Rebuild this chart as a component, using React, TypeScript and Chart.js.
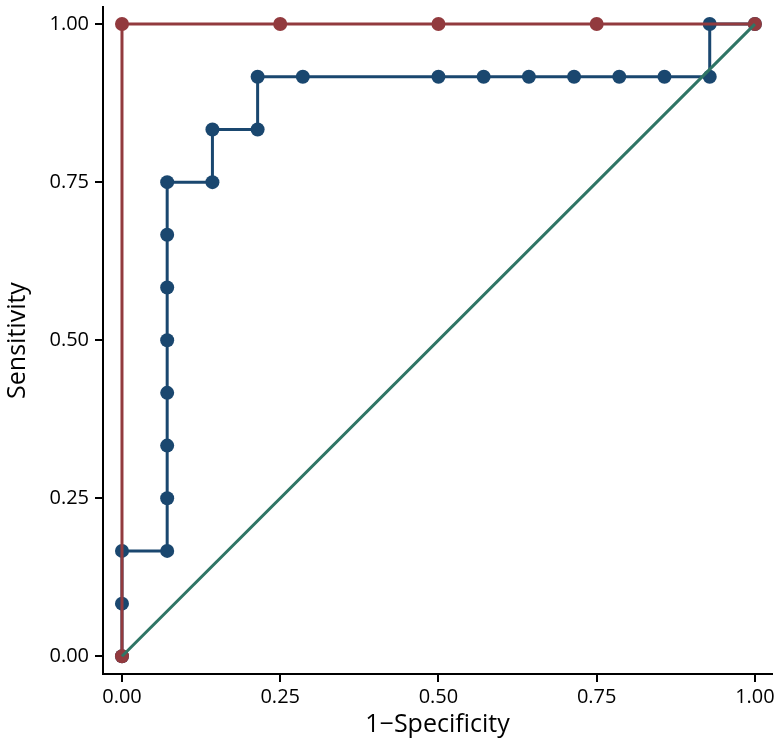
import React, { useEffect, useRef } from "react";
import { Chart, registerables } from "chart.js";

Chart.register(...registerables);

// Blue ROC curve (1-Specificity, Sensitivity)
const blueX = [0, 0, 0, 0.0714, 0.0714, 0.0714, 0.0714, 0.0714, 0.0714, 0.0714, 0.0714, 0.1429, 0.1429, 0.2143, 0.2143, 0.2857, 0.5, 0.5714, 0.6429, 0.7143, 0.7857, 0.8571, 0.9286, 0.9286, 1];
const blueY = [0, 0.0833, 0.1667, 0.1667, 0.25, 0.3333, 0.4167, 0.5, 0.5833, 0.6667, 0.75, 0.75, 0.8333, 0.8333, 0.9167, 0.9167, 0.9167, 0.9167, 0.9167, 0.9167, 0.9167, 0.9167, 0.9167, 1, 1];

// Red ROC curve
const redX = [0, 0, 0.25, 0.5, 0.75, 1];
const redY = [0, 1, 1, 1, 1, 1];

// Reference diagonal
const refX = [0, 1];
const refY = [0, 1];

const tickValues = [0, 0.25, 0.5, 0.75, 1];
const xTitle = "1\u2212Specificity";
const yTitle = "Sensitivity";

const BLUE = "#1a476f";
const RED = "#923a3e";
const GREEN = "#2f7565";
const FONT = "'Open Sans', sans-serif";

const toPts = (xs: number[], ys: number[]) => xs.map((x, i) => ({ x, y: ys[i] }));

export default function App() {
  const ref = useRef<HTMLCanvasElement>(null);
  useEffect(() => {
    if (!ref.current) return;
    const axisCommon = (isX: boolean) => ({
      type: "linear" as const,
      afterBuildTicks: (s: any) => {
        s.ticks = tickValues.map((v) => ({ value: v }));
      },
      afterFit: (s: any) => {
        if (isX) s.height = 73;
        else s.width = 103;
        s.paddingTop = 0;
        s.paddingBottom = 0;
        s.paddingLeft = 0;
        s.paddingRight = 0;
      },
      border: { display: true, color: "#000", width: 2 },
      grid: {
        display: true,
        drawOnChartArea: false,
        drawTicks: true,
        tickLength: 8,
        color: "#000",
        lineWidth: 2,
      },
      ticks: {
        color: "#000",
        font: { family: FONT, size: 20 },
        padding: isX ? 3 : 6,
        maxRotation: 0,
        callback: (v: any) => Number(v).toFixed(2),
      },
      title: {
        display: true,
        text: isX ? xTitle : yTitle,
        color: "#000",
        font: { family: FONT, size: 25 },
        padding: isX ? { top: 0, bottom: 7 } : { top: 3, bottom: 0 },
      },
    });
    const chart = new Chart(ref.current, {
      type: "scatter",
      data: {
        datasets: [
          {
            data: toPts(refX, refY),
            showLine: true,
            borderColor: GREEN,
            borderWidth: 3,
            pointRadius: 0,
          },
          {
            data: toPts(redX, redY),
            showLine: true,
            borderColor: RED,
            backgroundColor: RED,
            borderWidth: 3,
            pointRadius: 7,
            pointBorderWidth: 0,
          },
          {
            data: toPts(blueX, blueY),
            showLine: true,
            borderColor: BLUE,
            backgroundColor: BLUE,
            borderWidth: 3,
            pointRadius: 7,
            pointBorderWidth: 0,
          },
        ],
      },
      options: {
        responsive: false,
        animation: false,
        layout: { padding: { top: 5, right: 8, left: 0, bottom: 0 } },
        plugins: { legend: { display: false }, tooltip: { enabled: false } },
        scales: {
          x: { ...axisCommon(true), position: "bottom", min: -0.03, max: 1.027 },
          y: { ...axisCommon(false), position: "left", min: -0.028, max: 1.027 },
        },
      },
    });
    return () => chart.destroy();
  }, []);
  return (
    <div style={{ position: "fixed", left: 0, top: 0, width: 780, height: 747, background: "#fff" }}>
      <canvas ref={ref} width={780} height={747} style={{ display: "block" }} />
    </div>
  );
}
